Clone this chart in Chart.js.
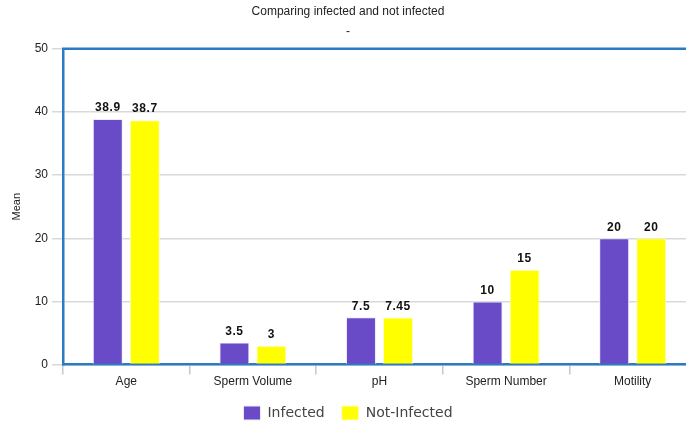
<!DOCTYPE html>
<html>
<head>
<meta charset="utf-8">
<script src="https://cdn.jsdelivr.net/npm/chart.js@4.4.1/dist/chart.umd.min.js"></script>
<style>
  html, body { margin: 0; padding: 0; background: #fff; overflow: hidden; }
  #wrap { width: 704px; height: 430px; position: relative; }
</style>
</head>
<body>
<div id="wrap"><canvas id="chart"></canvas></div>
<script>
// Mean values per parameter for the two groups
const categories = ['Age', 'Sperm Volume', 'pH', 'Sperm Number', 'Motility'];
const infected = [38.9, 3.5, 7.5, 10, 20];
const notInfected = [38.7, 3, 7.45, 15, 20];
const yTicks = [0, 10, 20, 30, 40, 50];

const AXIS_BLUE = '#2a7bc2';
const GRID_GREY = '#d9d9d9';
const SANS = "'Liberation Sans', Arial, sans-serif";

// Writes each bar's value just above it
const valueLabels = {
  id: 'valueLabels',
  afterDatasetsDraw(chart) {
    const ctx = chart.ctx;
    ctx.save();
    ctx.font = 'bold 12px ' + SANS;
    ctx.fillStyle = '#111';
    ctx.textAlign = 'center';
    ctx.textBaseline = 'bottom';
    if ('letterSpacing' in ctx) ctx.letterSpacing = '0.6px';
    chart.data.datasets.forEach((ds, i) => {
      chart.getDatasetMeta(i).data.forEach((bar, j) => {
        ctx.fillText(String(ds.data[j]), bar.x, bar.y - 5);
      });
    });
    ctx.restore();
  }
};

// Blue frame line along the top of the plot area
const topFrame = {
  id: 'topFrame',
  afterDraw(chart) {
    const { ctx, chartArea } = chart;
    ctx.save();
    ctx.strokeStyle = AXIS_BLUE;
    ctx.lineWidth = 2.5;
    ctx.beginPath();
    ctx.moveTo(chartArea.left - 1, chartArea.top);
    ctx.lineTo(chartArea.right, chartArea.top);
    ctx.stroke();
    ctx.restore();
  }
};

new Chart(document.getElementById('chart'), {
  type: 'bar',
  data: {
    labels: categories,
    datasets: [
      { label: 'Infected', data: infected, backgroundColor: '#6a4bc7',
        borderColor: '#efeaff', borderWidth: 1,
        categoryPercentage: 0.585, barPercentage: 0.81 },
      { label: 'Not-Infected', data: notInfected, backgroundColor: '#ffff00',
        borderColor: '#fffbd0', borderWidth: 1,
        categoryPercentage: 0.585, barPercentage: 0.81 }
    ]
  },
  options: {
    responsive: true,
    maintainAspectRatio: false,
    animation: false,
    layout: { padding: { left: 0, right: 8, top: 0, bottom: 0 } },
    plugins: {
      title: {
        display: true,
        text: 'Comparing infected and not infected',
        color: '#222',
        font: { family: SANS, size: 12, weight: 'normal' },
        padding: { top: 4, bottom: 4 }
      },
      subtitle: {
        display: true,
        text: '-',
        color: '#222',
        font: { family: SANS, size: 12, weight: 'normal' },
        padding: { top: 2, bottom: 10 }
      },
      legend: {
        position: 'bottom',
        labels: {
          boxWidth: 17,
          boxHeight: 14,
          padding: 17,
          color: '#444',
          font: { family: "'DejaVu Sans', sans-serif", size: 14 }
        }
      },
      tooltip: { enabled: false }
    },
    scales: {
      x: {
        grid: {
          offset: true,
          drawOnChartArea: false,
          drawTicks: true,
          tickLength: 10,
          color: '#c8c8c8',
          lineWidth: 1.5
        },
        border: { display: true, color: AXIS_BLUE, width: 2.5 },
        ticks: { color: '#222', font: { family: SANS, size: 12 }, padding: 0 }
      },
      y: {
        min: 0,
        max: 50,
        afterBuildTicks(scale) { scale.ticks = yTicks.map(v => ({ value: v })); },
        afterFit(scale) { scale.width = 63; },
        grid: {
          color: GRID_GREY,
          lineWidth: 1.5,
          drawTicks: true,
          tickLength: 11
        },
        border: { display: true, color: AXIS_BLUE, width: 2.5 },
        title: {
          display: true,
          text: 'Mean',
          color: '#222',
          font: { family: SANS, size: 11 },
          padding: { top: 10, bottom: 2 }
        },
        ticks: { color: '#222', font: { family: SANS, size: 12 }, padding: 4 }
      }
    }
  },
  plugins: [valueLabels, topFrame]
});
</script>
</body>
</html>
